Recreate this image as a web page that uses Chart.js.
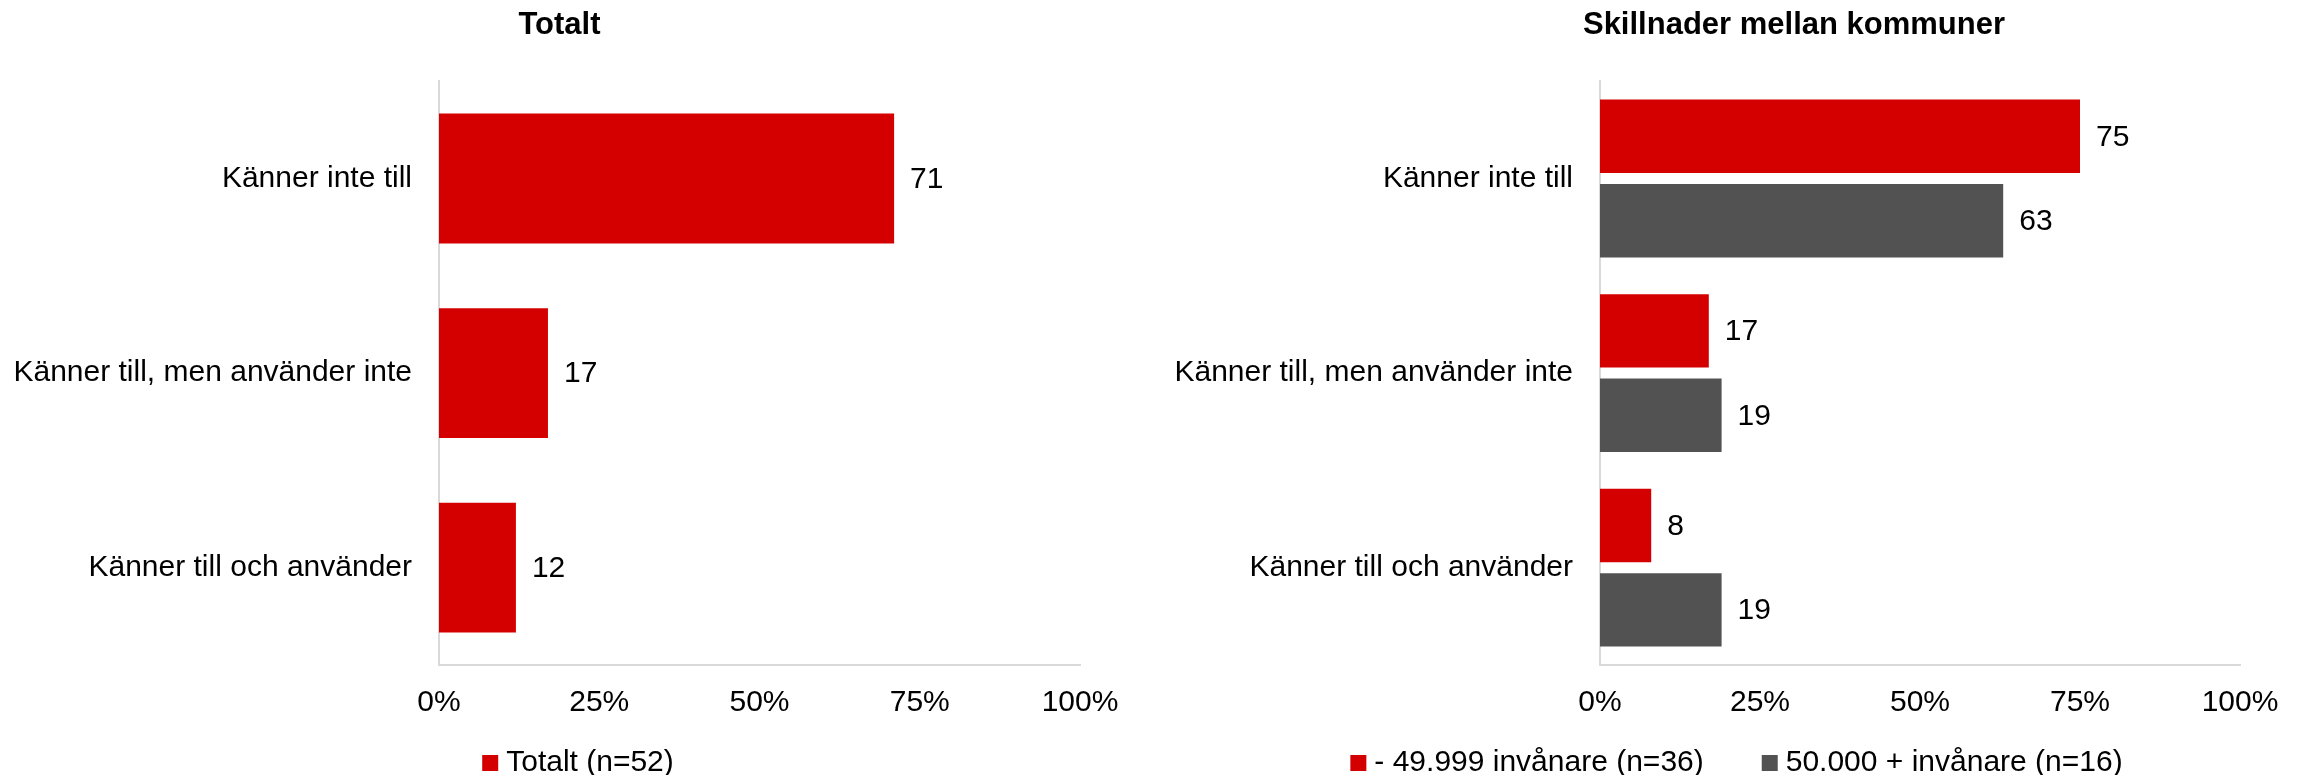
<!DOCTYPE html>
<html>
<head>
<meta charset="utf-8">
<script src="https://cdn.jsdelivr.net/npm/chart.js@4/dist/chart.umd.min.js"></script>
<style>
  html, body { margin: 0; padding: 0; background: #fff; }
  #wrap { position: relative; width: 2302px; height: 775px; }
  #left { position: absolute; left: 0; top: 0; }
  #right { position: absolute; left: 1150px; top: 0; }
</style>
</head>
<body>
<div id="wrap">
  <canvas id="left" width="1150" height="775"></canvas>
  <canvas id="right" width="1152" height="775"></canvas>
</div>
<script>
const categories = ['Känner inte till', 'Känner till, men använder inte', 'Känner till och använder'];
const totalt = [71, 17, 12];
const small = [75, 17, 8];   // - 49.999 invånare
const large = [63, 19, 19];  // 50.000 + invånare
const xTicks = [0, 25, 50, 75, 100];

const RED = '#D40000';
const GREY = '#525252';
const AXIS = '#D9D9D9';

Chart.defaults.font.family = "'Liberation Sans', Arial, sans-serif";
Chart.defaults.font.size = 30;
Chart.defaults.color = '#000';

// value labels to the right of each bar
const barLabels = {
    id: 'barLabels',
    afterDatasetsDraw(chart) {
        const ctx = chart.ctx;
        ctx.save();
        ctx.font = "30px 'Liberation Sans', Arial, sans-serif";
        ctx.fillStyle = '#000';
        ctx.textAlign = 'left';
        ctx.textBaseline = 'middle';
        chart.data.datasets.forEach((ds, i) => {
            chart.getDatasetMeta(i).data.forEach((bar, j) => {
                ctx.fillText(String(ds.data[j]), bar.x + 16, bar.y + 1);
            });
        });
        ctx.restore();
    }
};

// move title and legend, the original is not centred on the canvas
const boxShift = {
    id: 'boxShift',
    afterLayout(chart, args, opts) {
        const t = chart.titleBlock;
        if (t) { t.left += opts.title; t.right += opts.title; }
        const l = chart.legend;
        if (l) {
            l.left += opts.legend; l.right += opts.legend;
            l.top -= 37; l.bottom -= 37;
        }
    }
};

function makeOptions(title, shift, padLeft, padRight, catPct, barPct) {
    return {
        responsive: false,
        animation: false,
        indexAxis: 'y',
        categoryPercentage: catPct,
        barPercentage: barPct,
        layout: { padding: { left: padLeft, right: padRight, top: 0, bottom: -50 } },
        scales: {
            x: {
                min: 0,
                max: 100,
                afterBuildTicks: s => { s.ticks = xTicks.map(v => ({ value: v })); },
                afterFit: s => { s.height = 55; },
                grid: { display: false, drawTicks: false },
                border: { display: true, color: AXIS, width: 2 },
                ticks: { padding: 20, callback: v => v + '%', color: '#000' }
            },
            y: {
                afterFit: s => { s.width = 424; },
                grid: { display: false, drawTicks: false },
                border: { display: true, color: AXIS, width: 2 },
                ticks: { padding: 27, color: '#000' }
            }
        },
        plugins: {
            title: {
                display: true,
                text: title,
                color: '#000',
                font: { size: 31, weight: 'bold' },
                padding: { top: 7, bottom: 37 }
            },
            boxShift: shift,
            legend: {
                position: 'bottom',
                labels: {
                    usePointStyle: true,
                    pointStyle: 'rect',
                    boxWidth: 2,
                    boxHeight: 16,
                    padding: 65,
                    color: '#000',
                    font: { size: 30 }
                }
            },
            tooltip: { enabled: false }
        }
    };
}

new Chart(document.getElementById('left').getContext('2d'), {
    type: 'bar',
    data: {
        labels: categories,
        datasets: [
            { label: 'Totalt (n=52)', data: totalt, backgroundColor: RED, borderWidth: 0 }
        ]
    },
    options: makeOptions('Totalt', { title: 12, legend: 34 }, 15, 70, 1, 0.667),
    plugins: [barLabels, boxShift]
});

new Chart(document.getElementById('right').getContext('2d'), {
    type: 'bar',
    data: {
        labels: categories,
        datasets: [
            { label: '- 49.999 invånare (n=36)', data: small, backgroundColor: RED, borderWidth: 0 },
            { label: '50.000 + invånare (n=16)', data: large, backgroundColor: GREY, borderWidth: 0 }
        ]
    },
    options: makeOptions('Skillnader mellan kommuner', { title: 86, legend: 32 }, 26, 62, 0.867, 0.87),
    plugins: [barLabels, boxShift]
});
</script>
</body>
</html>
